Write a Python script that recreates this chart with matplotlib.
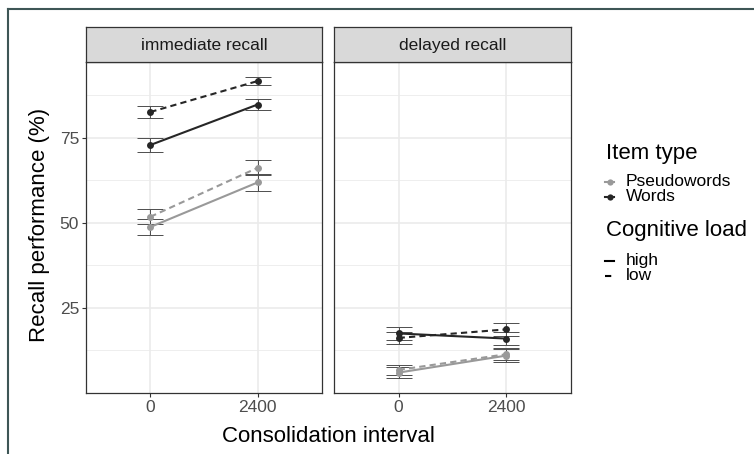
import matplotlib
matplotlib.use("Agg")
import matplotlib.pyplot as plt
from matplotlib.lines import Line2D
import numpy as np

plt.rcParams['font.family'] = ['Liberation Sans', 'DejaVu Sans']

# ---- data ----
panels = ["immediate recall", "delayed recall"]
intervals = ["0", "2400"]
item_types = ["Pseudowords", "Words"]
loads = ["high", "low"]

imm_pseudo_high = [48.8, 61.9]
imm_pseudo_low = [51.8, 66.2]
imm_words_high = [72.9, 84.8]
imm_words_low = [82.6, 91.7]
del_pseudo_high = [6.0, 11.0]
del_pseudo_low = [6.8, 11.4]
del_words_high = [17.5, 16.0]
del_words_low = [16.2, 18.7]

# standard errors
imm_pseudo_high_se = [2.4, 2.5]
imm_pseudo_low_se = [2.2, 2.2]
imm_words_high_se = [2.1, 1.7]
imm_words_low_se = [1.7, 1.3]
del_pseudo_high_se = [1.5, 1.8]
del_pseudo_low_se = [1.5, 1.8]
del_words_high_se = [1.8, 1.8]
del_words_low_se = [1.8, 1.8]

data = {
    "immediate recall": {
        ("Pseudowords", "high"): (imm_pseudo_high, imm_pseudo_high_se),
        ("Pseudowords", "low"): (imm_pseudo_low, imm_pseudo_low_se),
        ("Words", "high"): (imm_words_high, imm_words_high_se),
        ("Words", "low"): (imm_words_low, imm_words_low_se),
    },
    "delayed recall": {
        ("Pseudowords", "high"): (del_pseudo_high, del_pseudo_high_se),
        ("Pseudowords", "low"): (del_pseudo_low, del_pseudo_low_se),
        ("Words", "high"): (del_words_high, del_words_high_se),
        ("Words", "low"): (del_words_low, del_words_low_se),
    },
}

colors = {"Pseudowords": "#999999", "Words": "#262626"}
styles = {"high": "-", "low": (0, (3, 2))}

W, H = 754, 454
fig = plt.figure(figsize=(W / 100, H / 100), dpi=100)

def px_axes(x0, y0, x1, y1):
    return fig.add_axes([x0 / W, 1 - y1 / H, (x1 - x0) / W, (y1 - y0) / H])

def fx(x):
    return x / W

def fy(y):
    return 1 - y / H

panel_boxes = [(86, 62, 322, 393), (334, 62, 571, 393)]
strip_top = 27
border = "#333333"
small = 12.5
big = 16

for i, (pname, box) in enumerate(zip(panels, panel_boxes)):
    x0, y0, x1, y1 = box
    ax = px_axes(x0, y0, x1, y1)
    ax.set_xlim(-0.6, 1.6)
    ax.set_ylim(0.0, 97.3)
    xs = np.arange(len(intervals))
    for yv in [12.5, 37.5, 62.5, 87.5]:
        ax.axhline(yv, color="#EBEBEB", lw=0.6, zorder=0)
    for yv in [25, 50, 75]:
        ax.axhline(yv, color="#EBEBEB", lw=1.2, zorder=0)
    for xv in xs:
        ax.axvline(xv, color="#EBEBEB", lw=1.2, zorder=0)
    for (item, load), (vals, se) in data[pname].items():
        c = colors[item]
        ax.errorbar(xs, vals, yerr=se, fmt="none", ecolor="#4d4d4d",
                    elinewidth=0.7, capsize=9.5, capthick=0.7, zorder=2)
        ax.plot(xs, vals, color=c, lw=1.5, linestyle=styles[load], zorder=3)
        ax.plot(xs, vals, "o", color=c, ms=5, zorder=4, markeredgewidth=0)
    ax.set_xticks(xs)
    ax.set_xticklabels(intervals, fontsize=small, color="#4D4D4D")
    ax.set_yticks([25, 50, 75])
    if i == 0:
        ax.set_yticklabels(["25", "50", "75"], fontsize=small, color="#4D4D4D")
        ax.tick_params(axis="y", length=3, color="#333333", width=0.8, pad=2)
    else:
        ax.tick_params(axis="y", length=0)
        ax.set_yticklabels([])
    ax.tick_params(axis="x", length=3, color="#333333", width=0.8, pad=2)
    for s in ax.spines.values():
        s.set_color(border)
        s.set_linewidth(0.9)
    sax = px_axes(x0, strip_top, x1, y0)
    sax.set_facecolor("#D9D9D9")
    sax.set_xticks([]); sax.set_yticks([])
    for s in sax.spines.values():
        s.set_color(border)
        s.set_linewidth(0.9)
    sax.text(0.5, 0.47, pname, ha="center", va="center", fontsize=small,
             color="#1A1A1A", transform=sax.transAxes)

fig.text(fx(40), fy(225), "Recall performance (%)", rotation=90,
         ha="center", va="center", fontsize=big, color="black")
fig.text(fx(328), fy(437), "Consolidation interval", ha="center",
         va="center", fontsize=big, color="black")

# ---- legends (drawn manually) ----
lx_title = 606
lx_key0, lx_key1 = 605, 614
lx_text = 626

fig.text(fx(lx_title), fy(153), "Item type", ha="left", va="center",
         fontsize=big, color="black")
for t, yy in zip(item_types, [182, 197]):
    fig.add_artist(Line2D([fx(lx_key0), fx(lx_key1)], [fy(yy), fy(yy)],
                          color=colors[t], lw=1.5, transform=fig.transFigure))
    fig.add_artist(Line2D([fx((lx_key0 + lx_key1) / 2)], [fy(yy)],
                          color=colors[t], marker="o", ms=4.5,
                          markeredgewidth=0, linestyle="none",
                          transform=fig.transFigure))
    fig.text(fx(lx_text), fy(yy), t, ha="left", va="center",
             fontsize=small, color="black")

fig.text(fx(lx_title), fy(231), "Cognitive load", ha="left", va="center",
         fontsize=big, color="black")
for l, yy in zip(loads, [261, 276]):
    fig.add_artist(Line2D([fx(lx_key0), fx(lx_key1)], [fy(yy), fy(yy)],
                          color="black", lw=1.5, linestyle=styles[l],
                          transform=fig.transFigure))
    fig.text(fx(lx_text), fy(yy), l, ha="left", va="center",
             fontsize=small, color="black")

# outer frame (top and left edges)
fig.add_artist(Line2D([fx(8), fx(8)], [0, fy(9)], color="#3e5656", lw=1.5,
                      transform=fig.transFigure))
fig.add_artist(Line2D([fx(8), 1], [fy(9), fy(9)], color="#3e5656", lw=1.5,
                      transform=fig.transFigure))

fig.savefig("out.png", dpi=100)
